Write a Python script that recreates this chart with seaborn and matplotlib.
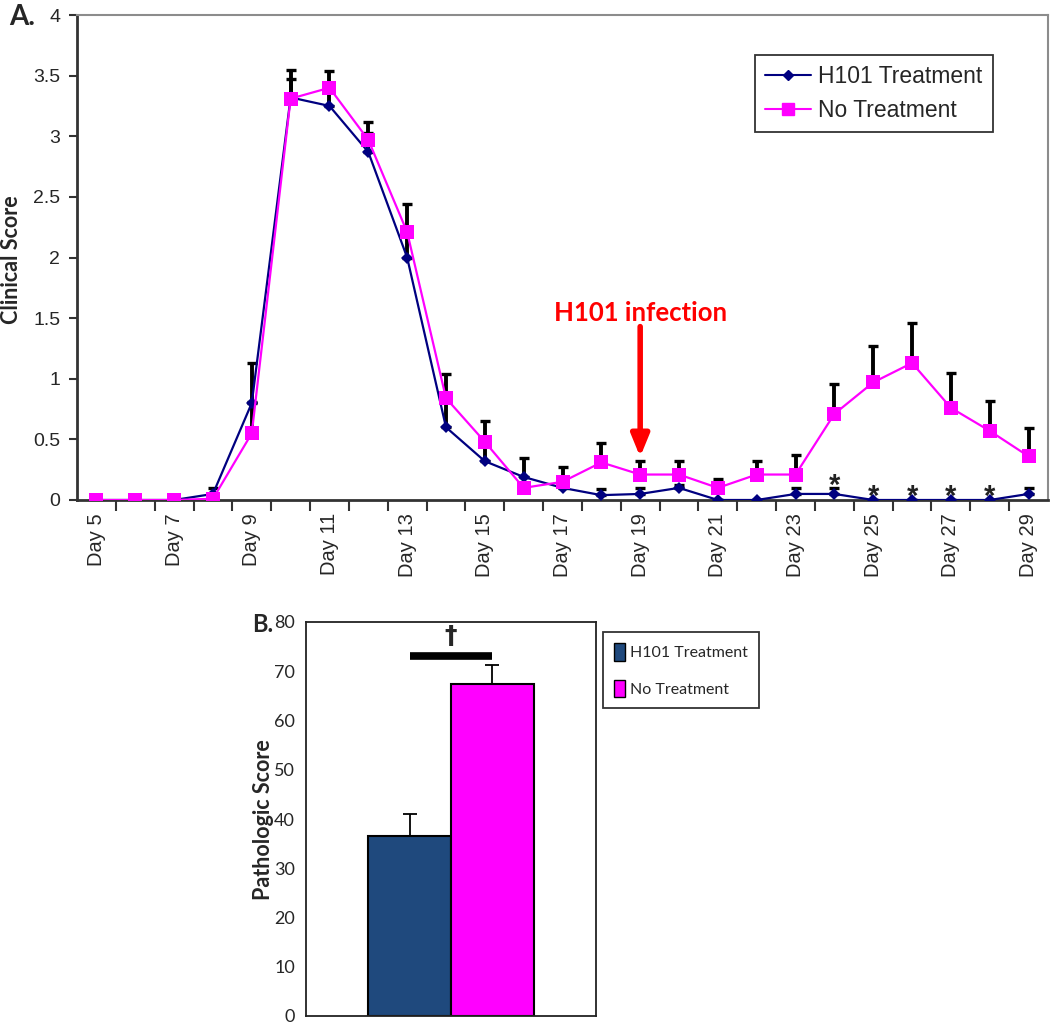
import numpy as np
import pandas as pd
import matplotlib
matplotlib.use("Agg")
import matplotlib.pyplot as plt
import seaborn as sns
from matplotlib.lines import Line2D
from matplotlib.patches import Patch

# ---------------- data ----------------
days = list(range(5, 30))
day_labels = [f"Day {d}" for d in days]
h101_score = [0, 0, 0, 0.05, 0.80, 3.32, 3.25, 2.87, 2.00, 0.60, 0.32, 0.19, 0.10,
              0.04, 0.05, 0.10, 0, 0, 0.05, 0.05, 0, 0, 0, 0, 0.05]
h101_err = [0, 0, 0, 0.05, 0.01, 0.15, 0.19, 0.16, 0.25, 0.25, 0.20, 0.16, 0.09,
            0.05, 0.05, 0.02, 0, 0, 0.05, 0.05, 0, 0, 0, 0, 0.05]
notx_score = [0, 0, 0, 0.01, 0.55, 3.31, 3.40, 2.97, 2.21, 0.84, 0.48, 0.10, 0.15,
              0.31, 0.21, 0.21, 0.10, 0.21, 0.21, 0.71, 0.97, 1.13, 0.76, 0.57, 0.36]
notx_err = [0, 0, 0, 0, 0.58, 0.24, 0.14, 0.15, 0.23, 0.20, 0.17, 0, 0.12,
            0.16, 0.11, 0.11, 0.07, 0.11, 0.16, 0.25, 0.30, 0.33, 0.29, 0.25, 0.23]
star_days = [24, 25, 26, 27, 28]
star_base = [0.053, -0.038, -0.038, -0.038, -0.038]

groups = ["H101 Treatment", "No Treatment"]
patho_score = [36.5, 67.5]
patho_err = [4.6, 3.8]

NAVY = "#000080"
PINK = "#FF00FF"
BAR_NAVY = "#1F497D"

sns.set_theme(style="white")
plt.rcParams["font.family"] = ["Liberation Sans", "DejaVu Sans"]
LATO = ["Lato", "DejaVu Sans"]

fig = plt.figure(figsize=(10.5, 10.25), dpi=100)

# ---------------- panel A ----------------
axA = fig.add_axes([77/1050, 1 - 500/1025, (1048-77)/1050, (500-15)/1025])
dfA = pd.DataFrame({"day": days * 2,
                    "score": h101_score + notx_score,
                    "grp": ["H101 Treatment"] * len(days) + ["No Treatment"] * len(days)})

axA.errorbar(days, notx_score, yerr=[np.zeros(len(days)), notx_err], fmt="none",
             ecolor="black", elinewidth=2.8, capsize=6, capthick=2.4, zorder=2)
axA.errorbar(days, h101_score, yerr=[np.zeros(len(days)), h101_err], fmt="none",
             ecolor="black", elinewidth=2.8, capsize=6, capthick=2.4, zorder=2)

sns.lineplot(data=dfA, x="day", y="score", hue="grp", style="grp",
             palette={"H101 Treatment": NAVY, "No Treatment": PINK},
             markers={"H101 Treatment": "D", "No Treatment": "s"},
             dashes=False, linewidth=1.6, markersize=7, markeredgewidth=0,
             ax=axA, legend=False, zorder=3)
for ln in axA.lines:
    if str(ln.get_color()).lower() == "#ff00ff":
        ln.set_markersize(10)
    else:
        ln.set_markersize(6.5)

axA.set_xlim(4.5, 29.5)
axA.set_ylim(0, 4)
axA.set_yticks([0, 0.5, 1, 1.5, 2, 2.5, 3, 3.5, 4])
axA.set_yticklabels(["0", "0.5", "1", "1.5", "2", "2.5", "3", "3.5", "4"], fontsize=14)
axA.set_xticks(days[::2])
axA.set_xticklabels(day_labels[::2], rotation=90, fontsize=14.5)
axA.set_xticks([d + 0.5 for d in days[:-1]], minor=True)
axA.tick_params(axis="x", which="major", length=0, pad=9.5)
axA.tick_params(axis="x", which="minor", length=8, width=1.5, color="#333333", direction="out")
axA.tick_params(axis="y", which="major", length=6, width=1.5, color="#333333", direction="out", pad=6)
axA.tick_params(bottom=True, left=True, which="both")
axA.set_xlabel("")
axA.set_ylabel("")
for s in ["left", "bottom"]:
    axA.spines[s].set_color("#333333")
    axA.spines[s].set_linewidth(2)
for s in ["top", "right"]:
    axA.spines[s].set_color("#8c8c8c")
    axA.spines[s].set_linewidth(1.5)

for d, y in zip(star_days, star_base):
    axA.text(d, y, "*", ha="center", va="baseline", fontsize=21, fontweight="bold",
             color="#222222", clip_on=False, zorder=5)

axA.annotate("", xy=(19, 0.355), xytext=(19, 1.43),
             arrowprops=dict(arrowstyle="-|>,head_width=0.45,head_length=1.1",
                             color="#FF0000", lw=4, shrinkA=0, shrinkB=0))
axA.text(19, 1.54, "H101 infection", ha="center", va="center", color="#FF0000",
         fontsize=18.5, fontweight="bold", family=LATO)

handlesA = [Line2D([], [], color=NAVY, marker="D", markersize=5, lw=1.5, label="H101 Treatment"),
            Line2D([], [], color=PINK, marker="s", markersize=8, lw=1.5, label="No Treatment")]
legA = axA.legend(handles=handlesA, loc="upper left",
                  bbox_to_anchor=((755-77)/971, (500-55)/485), borderaxespad=0,
                  fontsize=16.5, frameon=True, fancybox=False, edgecolor="black",
                  handlelength=2.0, handletextpad=0.3, borderpad=0.45, labelspacing=0.45)
legA.get_frame().set_linewidth(1.3)

fig.text(12/1050, 1 - 260/1025, "Clinical Score", rotation=90, ha="center", va="center",
         fontsize=15.5, fontweight="bold", family=LATO)
fig.text(9/1050, 1 - 17/1025, "A.", ha="left", va="center", fontsize=20,
         fontweight="bold", family=LATO)

# ---------------- panel B ----------------
axB = fig.add_axes([306/1050, 1 - 1016/1025, (596-306)/1050, (1016-622)/1025])
dfB = pd.DataFrame({"grp": groups, "score": patho_score})
sns.barplot(data=dfB, x="grp", y="score", hue="grp",
            palette={"H101 Treatment": BAR_NAVY, "No Treatment": PINK},
            saturation=1, width=1.0, edgecolor="black", linewidth=1.5, ax=axB,
            legend=False, errorbar=None, zorder=2)
axB.errorbar([0, 1], patho_score, yerr=[[0, 0], patho_err], fmt="none",
             ecolor="black", elinewidth=1.3, capsize=5, capthick=1.3, zorder=1)
axB.set_xlim(-1.247, 2.247)
axB.set_ylim(0, 80)
axB.set_xticks([])
axB.set_yticks(range(0, 81, 10))
axB.set_yticklabels([str(v) for v in range(0, 81, 10)], fontsize=13, family=LATO)
axB.tick_params(axis="y", length=0, pad=8)
axB.set_xlabel("")
axB.set_ylabel("")
for s in axB.spines.values():
    s.set_color("#222222")
    s.set_linewidth(1.3)

axB.plot([-0.5 + (410-368)/83, -0.5 + (492-368)/83], [73.1, 73.1],
         color="black", lw=5.5, solid_capstyle="butt")
axB.text(0.5, 77.2, "†", ha="center", va="center", fontsize=18, fontweight="bold",
         family=["DejaVu Sans"])

handlesB = [Patch(facecolor=BAR_NAVY, edgecolor="black", label="H101 Treatment"),
            Patch(facecolor=PINK, edgecolor="black", label="No Treatment")]
legB = axB.legend(handles=handlesB, loc="upper left",
                  bbox_to_anchor=((603-306)/290, (1016-632)/394), borderaxespad=0,
                  frameon=True, fancybox=False, edgecolor="black",
                  handlelength=0.7, handleheight=1.3, handletextpad=0.3,
                  borderpad=0.7, labelspacing=1.2, prop={"family": LATO, "size": 11.5})
legB.get_frame().set_linewidth(1.3)

fig.text(263/1050, 1 - 820/1025, "Pathologic Score", rotation=90, ha="center", va="center",
         fontsize=15.5, fontweight="bold", family=LATO)
fig.text(252/1050, 1 - 625/1025, "B.", ha="left", va="center", fontsize=17,
         fontweight="bold", family=LATO)

fig.savefig("out.png", dpi=100)
